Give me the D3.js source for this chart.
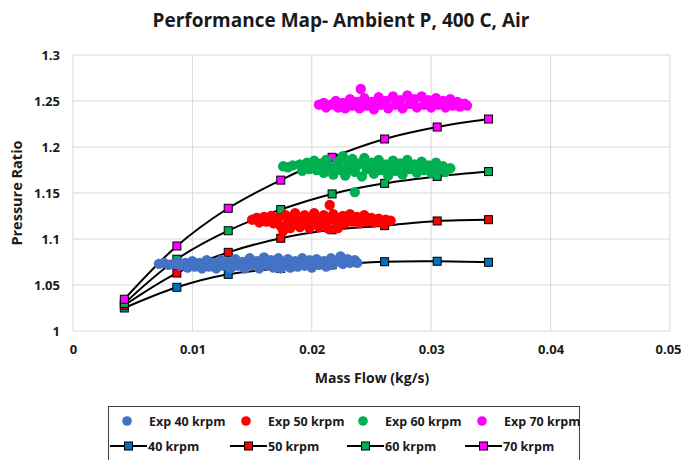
<!DOCTYPE html>
<html><head><meta charset="utf-8">
<script src="https://cdn.jsdelivr.net/npm/d3@7"></script>
<style>
body{margin:0;background:#fff;}
svg text{font-family:"Open Sans",Lato,sans-serif;font-weight:bold;fill:#1a1a1a;}
</style></head>
<body><svg id="chart" width="683" height="460"></svg>
<script>
const xTicks = [0, 0.01, 0.02, 0.03, 0.04, 0.05];
const yTicks = [1, 1.05, 1.1, 1.15, 1.2, 1.25, 1.3];

const modelFlow = [0.0043, 0.0087, 0.0130, 0.0174, 0.0217, 0.0261, 0.0305, 0.0348];
const pr40 = [1.025, 1.0475, 1.0616, 1.068, 1.072, 1.0753, 1.0758, 1.0747];
const pr50 = [1.028, 1.063, 1.0855, 1.1008, 1.110, 1.1145, 1.1196, 1.121];
const pr60 = [1.030, 1.078, 1.109, 1.132, 1.149, 1.1605, 1.168, 1.1733];
const pr70 = [1.0345, 1.0924, 1.1334, 1.164, 1.1888, 1.2087, 1.2217, 1.2304];

const exp40 = [[0.0072,1.073],[0.0076,1.074],[0.0080,1.072],[0.0084,1.073],
[0.0088,1.075],[0.0090,1.071],[0.0094,1.074],[0.0096,1.069],[0.0100,1.076],[0.0102,1.070],[0.0106,1.074],[0.0108,1.068],[0.0112,1.077],[0.0114,1.070],[0.0116,1.073],[0.0118,1.074],[0.0120,1.068],[0.0124,1.077],[0.0126,1.071],[0.0130,1.075],[0.0132,1.068],[0.0134,1.072],[0.0136,1.078],[0.0138,1.071],[0.0142,1.075],[0.0144,1.068],[0.0146,1.073],[0.0148,1.079],[0.0150,1.072],[0.0154,1.076],[0.0156,1.068],[0.0158,1.073],[0.0160,1.080],[0.0162,1.072],[0.0166,1.077],[0.0168,1.069],[0.0170,1.074],[0.0172,1.079],[0.0174,1.068],[0.0176,1.073],[0.0180,1.078],[0.0182,1.069],[0.0184,1.074],[0.0186,1.076],[0.0188,1.070],[0.0192,1.079],[0.0194,1.071],[0.0196,1.074],[0.0198,1.077],[0.0200,1.069],[0.0204,1.078],[0.0206,1.072],[0.0208,1.075],[0.0210,1.076],[0.0212,1.070],[0.0216,1.079],[0.0217,1.072],[0.0220,1.075],[0.0224,1.081],[0.0226,1.073],[0.0228,1.077],[0.0230,1.078],[0.0232,1.074],[0.0236,1.077],[0.0238,1.074]];

const exp50 = [[0.0150,1.121],[0.0154,1.123],[0.0156,1.118],[0.0160,1.124],[0.0162,1.119],[0.0166,1.125],[0.0168,1.117],[0.0170,1.121],[0.0172,1.123],[0.0174,1.114],[0.0176,1.109],[0.0178,1.126],[0.0180,1.118],[0.0182,1.112],[0.0184,1.122],[0.0186,1.128],[0.0188,1.120],[0.0190,1.113],[0.0192,1.117],[0.0194,1.126],[0.0196,1.117],[0.0198,1.112],[0.0200,1.122],[0.0202,1.128],[0.0204,1.120],[0.0206,1.113],[0.0208,1.117],[0.0210,1.126],[0.0212,1.118],[0.0214,1.111],[0.0215,1.137],[0.0216,1.122],[0.0218,1.127],[0.0220,1.119],[0.0222,1.112],[0.0224,1.121],[0.0226,1.125],[0.0228,1.117],[0.0230,1.121],[0.0232,1.127],[0.0234,1.119],[0.0236,1.122],[0.0238,1.124],[0.0240,1.117],[0.0242,1.121],[0.0244,1.126],[0.0246,1.119],[0.0250,1.123],[0.0252,1.118],[0.0256,1.122],[0.0258,1.118],[0.0262,1.121],[0.0266,1.120]];

const exp60 = [[0.0176,1.179],[0.0180,1.178],[0.0184,1.180],
[0.0190,1.181],[0.0192,1.174],[0.0196,1.183],[0.0198,1.176],[0.0202,1.185],[0.0204,1.175],[0.0206,1.179],[0.0208,1.182],[0.0210,1.172],[0.0212,1.186],[0.0214,1.180],[0.0216,1.177],[0.0218,1.170],[0.0222,1.184],[0.0224,1.175],[0.0226,1.190],[0.0228,1.169],[0.0230,1.181],[0.0232,1.176],[0.0234,1.187],[0.0236,1.151],[0.0236,1.173],[0.0238,1.180],[0.0240,1.182],[0.0242,1.168],[0.0244,1.188],[0.0246,1.176],[0.0248,1.180],[0.0250,1.183],[0.0252,1.171],[0.0254,1.178],[0.0256,1.186],[0.0258,1.175],[0.0260,1.180],[0.0262,1.181],[0.0264,1.169],[0.0266,1.177],[0.0268,1.185],[0.0270,1.174],[0.0272,1.179],[0.0274,1.182],[0.0276,1.170],[0.0278,1.177],[0.0280,1.186],[0.0282,1.176],[0.0284,1.179],[0.0286,1.181],[0.0288,1.172],[0.0290,1.177],[0.0292,1.184],[0.0294,1.175],[0.0298,1.180],[0.0300,1.172],[0.0304,1.183],[0.0306,1.176],[0.0310,1.179],[0.0312,1.173],[0.0316,1.177]];

const exp70 = [[0.0206,1.246],[0.0210,1.248],[0.0212,1.243],[0.0216,1.246],[0.0220,1.250],[0.0222,1.243],[0.0226,1.248],[0.0228,1.242],[0.0230,1.246],[0.0232,1.252],[0.0234,1.245],[0.0238,1.249],[0.0240,1.242],[0.0241,1.263],[0.0244,1.253],[0.0246,1.245],[0.0248,1.248],[0.0250,1.249],[0.0252,1.241],[0.0256,1.254],[0.0258,1.246],[0.0260,1.249],[0.0262,1.250],[0.0264,1.242],[0.0268,1.255],[0.0270,1.246],[0.0272,1.249],[0.0274,1.251],[0.0276,1.242],[0.0280,1.256],[0.0282,1.247],[0.0284,1.250],[0.0286,1.252],[0.0288,1.243],[0.0292,1.255],[0.0294,1.246],[0.0296,1.249],[0.0298,1.251],[0.0300,1.243],[0.0304,1.253],[0.0306,1.246],[0.0308,1.249],[0.0310,1.250],[0.0312,1.243],[0.0316,1.252],[0.0318,1.245],[0.0322,1.249],[0.0324,1.244],[0.0328,1.247],[0.0330,1.245]];

const expNames = ["Exp 40 krpm","Exp 50 krpm","Exp 60 krpm","Exp 70 krpm"];
const modelNames = ["40 krpm","50 krpm","60 krpm","70 krpm"];
const expColors = ["#4472C4","#FF0000","#00B050","#FF00FF"];
const modelColors = ["#0070C0","#FF0000","#00B050","#FF00FF"];

const svg = d3.select("#chart");
const L = 73, R = 670, T = 55, B = 331;
const x = d3.scaleLinear().domain([0, 0.05]).range([L, R]);
const y = d3.scaleLinear().domain([1, 1.3]).range([B, T]);

// title
svg.append("text").attr("x", 341).attr("y", 27).attr("text-anchor","middle")
  .style("font-size","19px").text("Performance Map- Ambient P, 400 C, Air");

// gridlines
const grid = svg.append("g");
grid.selectAll(".gx").data(xTicks).join("line")
  .attr("x1", d=>x(d)).attr("x2", d=>x(d)).attr("y1", T).attr("y2", B)
  .attr("stroke","#d9d9d9").attr("stroke-width",1);
grid.selectAll(".gy").data(yTicks).join("line")
  .attr("y1", d=>y(d)).attr("y2", d=>y(d)).attr("x1", L).attr("x2", R)
  .attr("stroke","#d9d9d9").attr("stroke-width",1);

// axes
const xAxis = svg.append("g").attr("transform",`translate(0,${B})`)
  .call(d3.axisBottom(x).tickValues(xTicks).tickFormat(d=>d3.format("")(d)).tickSize(0).tickPadding(14));
const yAxis = svg.append("g").attr("transform",`translate(${L},0)`)
  .call(d3.axisLeft(y).tickValues(yTicks).tickFormat(d=>d3.format("")(+d.toFixed(2))).tickSize(0).tickPadding(13));
[xAxis,yAxis].forEach(a=>{a.select(".domain").remove(); a.selectAll("text").style("font-size","13px").attr("fill","#1a1a1a");});
xAxis.selectAll(".tick").filter(d=>d===0.05).select("text").attr("dx", -2);

svg.append("text").attr("x", 372).attr("y", 383).attr("text-anchor","middle")
  .style("font-size","14px").text("Mass Flow (kg/s)");
svg.append("text").attr("transform","translate(22,193) rotate(-90)").attr("text-anchor","middle")
  .style("font-size","14.5px").text("Pressure Ratio");

// model lines
const models = [pr40, pr50, pr60, pr70];
const line = d3.line().x(d=>x(d[0])).y(d=>y(d[1])).curve(d3.curveCatmullRom.alpha(0.5));
const plot = svg.append("g");
models.forEach((pr,i)=>{
  const pts = modelFlow.map((f,j)=>[f, pr[j]]);
  plot.append("path").datum(pts).attr("d", line).attr("fill","none")
    .attr("stroke","#000").attr("stroke-width",2);
  plot.selectAll(null).data(pts).join("rect")
    .attr("x", d=>x(d[0])-4).attr("y", d=>y(d[1])-4).attr("width",8).attr("height",8)
    .attr("fill", modelColors[i]).attr("stroke","#000").attr("stroke-width",1);
});

// experimental scatter
[exp40, exp50, exp60, exp70].forEach((s,i)=>{
  plot.selectAll(null).data(s).join("circle")
    .attr("cx", d=>x(d[0])).attr("cy", d=>y(d[1])).attr("r",5.2)
    .attr("fill", expColors[i]);
});

// legend
const lg = svg.append("g");
lg.append("rect").attr("x",108.5).attr("y",406.5).attr("width",471).attr("height",60)
  .attr("fill","#fff").attr("stroke","#404040").attr("stroke-width",1);
const row1X = [127, 246, 363, 482];
const row2X = [110, 230, 347, 465];
expNames.forEach((n,i)=>{
  lg.append("circle").attr("cx",row1X[i]).attr("cy",421).attr("r",4.8).attr("fill",expColors[i]);
  lg.append("text").attr("x",row1X[i]+22).attr("y",426).style("font-size","12.5px").text(n);
});
modelNames.forEach((n,i)=>{
  const x0 = row2X[i];
  lg.append("line").attr("x1",x0).attr("x2",x0+37).attr("y1",446).attr("y2",446)
    .attr("stroke","#000").attr("stroke-width",2);
  lg.append("rect").attr("x",x0+14.5).attr("y",442).attr("width",8).attr("height",8)
    .attr("fill",modelColors[i]).attr("stroke","#000").attr("stroke-width",1);
  lg.append("text").attr("x",x0+38).attr("y",451).style("font-size","12.5px").text(n);
});
</script></body></html>
